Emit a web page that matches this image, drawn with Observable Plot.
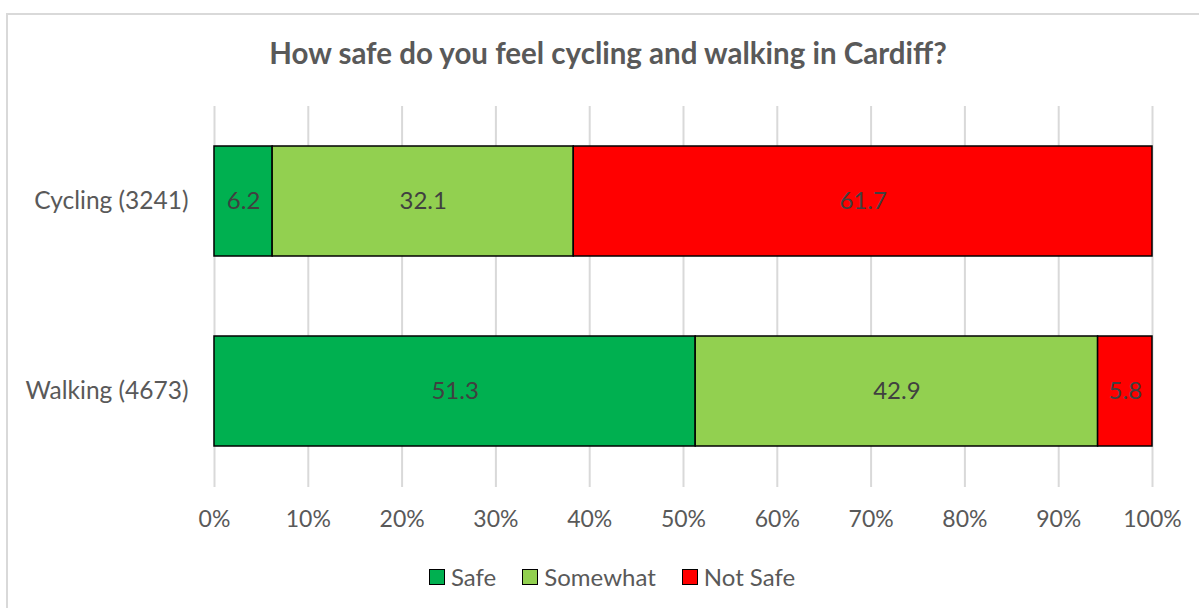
<!DOCTYPE html>
<html>
<head>
<meta charset="utf-8">
<script src="https://cdn.jsdelivr.net/npm/d3@7"></script>
<script src="https://cdn.jsdelivr.net/npm/@observablehq/plot@0.6"></script>
<style>
  html, body { margin: 0; padding: 0; background: #fff; }
  #wrap { position: relative; width: 1199px; height: 608px; overflow: hidden; font-family: Lato, "Open Sans", sans-serif; }
  #border { position: absolute; left: 6px; top: 13px; width: 1200px; height: 600px; border: 2px solid #d9d9d9; box-sizing: border-box; }
  #chart { position: absolute; left: 0; top: 0; }
  #title { position: absolute; left: 0; width: 1216px; top: 33px; text-align: center; font-weight: bold; font-size: 29.5px; line-height: 40px; color: #595959; }
  #legend { position: absolute; left: 429px; top: 562px; display: flex; align-items: center; font-size: 24px; color: #595959; }
  .item { display: flex; align-items: center; margin-right: 26px; }
  .sw { width: 14px; height: 14px; border: 1.5px solid #000; margin-right: 6px; }
</style>
</head>
<body>
<div id="wrap">
  <div id="border"></div>
  <div id="chart"></div>
  <div id="title"></div>
  <div id="legend"></div>
</div>
<script>
const titleText = "How safe do you feel cycling and walking in Cardiff?";
const categories = ["Cycling (3241)", "Walking (4673)"];
const seriesNames = ["Safe", "Somewhat", "Not Safe"];
const seriesColors = ["#00B050", "#92D050", "#FF0000"];
const safeValues = [6.2, 51.3];
const somewhatValues = [32.1, 42.9];
const notSafeValues = [61.7, 5.8];
const xTicks = [0, 10, 20, 30, 40, 50, 60, 70, 80, 90, 100];

const seriesValues = [safeValues, somewhatValues, notSafeValues];
const data = [];
categories.forEach((c, i) => {
  seriesNames.forEach((s, j) => {
    data.push({category: c, series: s, value: seriesValues[j][i]});
  });
});

const chart = Plot.plot({
  width: 1199,
  height: 608,
  marginLeft: 214,
  marginRight: 47,
  marginTop: 106,
  marginBottom: 121,
  style: {fontFamily: "Lato, 'Open Sans', sans-serif", fontSize: "24px", color: "#595959", background: "transparent", overflow: "visible"},
  x: {domain: [0, 100], ticks: xTicks},
  y: {domain: categories, paddingInner: 0.42, paddingOuter: 0.21},
  color: {domain: seriesNames, range: seriesColors},
  marks: [
    Plot.gridX(xTicks, {stroke: "#d9d9d9", strokeOpacity: 1, strokeWidth: 2}),
    Plot.barX(data, Plot.stackX({x: "value", y: "category", fill: "series", stroke: "#000", strokeWidth: 1.5})),
    Plot.text(data, Plot.stackX({x: "value", y: "category", z: "series", text: d => d.value.toFixed(1), fill: "#404040", fontSize: 24})),
    Plot.axisX(xTicks, {tickSize: 0, tickPadding: 23, tickFormat: d => d + "%", fontSize: 23, label: null}),
    Plot.axisY({tickSize: 0, tickPadding: 26, fontSize: 24.5, label: null})
  ]
});
document.getElementById("chart").appendChild(chart);
document.getElementById("title").textContent = titleText;

const legend = document.getElementById("legend");
seriesNames.forEach((s, i) => {
  const item = document.createElement("div");
  item.className = "item";
  const sw = document.createElement("div");
  sw.className = "sw";
  sw.style.background = seriesColors[i];
  const t = document.createElement("span");
  t.textContent = s;
  item.appendChild(sw);
  item.appendChild(t);
  legend.appendChild(item);
});
</script>
</body>
</html>
